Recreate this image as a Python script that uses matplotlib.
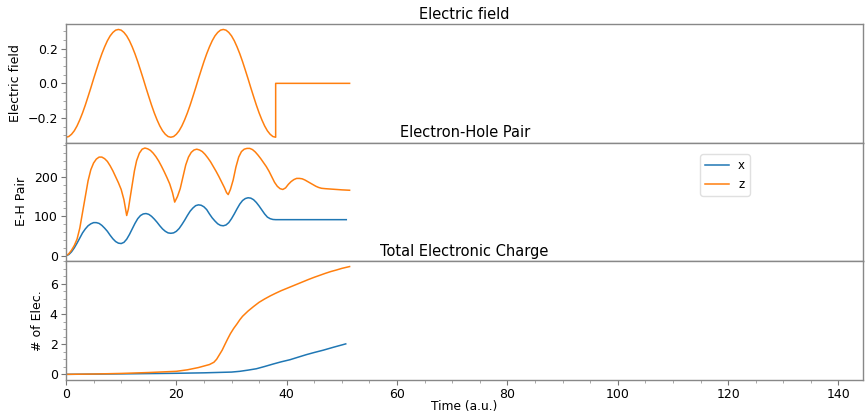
import numpy as np
import matplotlib
matplotlib.use("Agg")
import matplotlib.pyplot as plt
from matplotlib.ticker import AutoMinorLocator

# ---- Electric field (z component), sampled every 0.5 a.u. up to the cutoff ----
field_t = list(np.arange(0.0, 38.5, 0.5)) + [38.0, 51.4]
field_z = [
    -0.310, -0.306, -0.293, -0.273, -0.245, -0.210, -0.170, -0.125, -0.076, -0.026,
    0.026, 0.076, 0.125, 0.170, 0.210, 0.245, 0.273, 0.293, 0.306, 0.310,
    0.306, 0.293, 0.273, 0.245, 0.210, 0.170, 0.125, 0.076, 0.026, -0.026,
    -0.076, -0.125, -0.170, -0.210, -0.245, -0.273, -0.293, -0.306, -0.310,
    -0.306, -0.293, -0.273, -0.245, -0.210, -0.170, -0.125, -0.076, -0.026,
    0.026, 0.076, 0.125, 0.170, 0.210, 0.245, 0.273, 0.293, 0.306, 0.310,
    0.306, 0.293, 0.273, 0.245, 0.210, 0.170, 0.125, 0.076, 0.026, -0.026,
    -0.076, -0.125, -0.170, -0.210, -0.245, -0.273, -0.293, -0.306, -0.310,
    0.0, 0.0,
]

# ---- Electron-hole pairs ----
eh_x_t = [0, 0.5, 1, 1.5, 2, 2.5, 3, 3.5, 4, 4.5, 5, 5.5, 6, 6.5, 7, 7.5, 8, 8.5, 9, 9.5,
          10, 10.5, 11, 11.5, 12, 12.5, 13, 13.5, 14, 14.5, 15, 15.5, 16, 16.5, 17, 17.5,
          18, 18.5, 19, 19.5, 20, 20.5, 21, 21.5, 22, 22.5, 23, 23.5, 24, 24.5, 25, 25.5,
          26, 26.5, 27, 27.5, 28, 28.5, 29, 29.5, 30, 30.5, 31, 31.5, 32, 32.5, 33, 33.5,
          34, 34.5, 35, 35.5, 36, 36.5, 37, 37.5, 38, 40, 45, 50.8]
eh_x = [0, 3, 10, 20, 32, 45, 58, 68, 76, 81, 84, 84, 82, 77, 70, 62, 52, 43, 36, 32,
        31, 34, 42, 54, 68, 82, 94, 102, 106, 107, 105, 100, 93, 85, 76, 68,
        62, 58, 57, 58, 62, 69, 79, 90, 102, 113, 121, 127, 129, 128, 124, 117,
        106, 96, 88, 81, 77, 76, 78, 84, 94, 106, 119, 131, 140, 145, 147, 146,
        142, 135, 126, 116, 106, 98, 94, 92, 91.5, 91.5, 91.5, 91.5]

eh_z_t = [0, 0.5, 1, 1.5, 2, 2.5, 3, 3.5, 4, 4.5, 5, 5.5, 6, 6.5, 7, 7.5, 8, 8.5, 9, 9.5,
          10, 10.5, 10.8, 11, 11.3, 11.6, 12, 12.4, 12.8, 13.3, 13.8, 14.3, 14.8, 15.3,
          15.8, 16.3, 16.8, 17.3, 17.8, 18.3, 18.8, 19.3, 19.7, 20.2, 20.7, 21.2, 21.7,
          22.2, 22.7, 23.2, 23.7, 24.2, 24.7, 25.2, 25.7, 26.2, 26.7, 27.2, 27.7, 28.2,
          28.7, 29.1, 29.4, 29.8, 30.3, 30.8, 31.3, 31.8, 32.3, 32.8, 33.3, 33.8, 34.3,
          34.8, 35.3, 35.8, 36.3, 36.8, 37.3, 37.8, 38.3, 38.8, 39.3, 39.8, 40.3, 40.8,
          41.3, 41.8, 42.3, 42.8, 43.3, 43.8, 44.3, 44.8, 45.3, 45.8, 46.3, 47, 48, 49,
          50, 51.4]
eh_z = [0, 5, 14, 26, 42, 70, 110, 150, 190, 218, 235, 245, 250, 250, 246, 239, 228, 215, 200, 185,
        168, 142, 118, 102, 118, 145, 180, 215, 241, 260, 270, 273, 271, 267,
        260, 251, 240, 227, 213, 198, 182, 160, 136, 150, 170, 200, 230,
        250, 262, 268, 270, 268, 264, 257, 248, 238, 226, 214, 201, 187,
        173, 160, 155, 168, 192, 225, 250, 264, 270, 272, 272, 269, 263,
        255, 246, 236, 226, 214, 200, 186, 176, 170, 168, 172, 181, 188,
        193, 196, 196, 195, 192, 188, 184, 180, 176, 173, 171, 170, 169, 168,
        167, 166]

# ---- Total electronic charge ----
q_x_t = [0, 10, 20, 25, 30, 31.5, 33, 34.5, 36, 37.6, 39, 40.6, 42, 43.6, 45, 46.6, 48.5, 50.7]
q_x = [0, 0.03, 0.07, 0.1, 0.15, 0.2, 0.28, 0.37, 0.52, 0.69, 0.83, 0.97, 1.13, 1.31,
       1.45, 1.6, 1.8, 2.02]

q_z_t = [0, 5, 10, 15, 20, 22, 24, 25, 26, 26.8, 27.3, 27.8, 28.3, 28.8, 29.3, 29.8, 30.4,
         31, 31.5, 32, 33, 34, 35, 36, 37, 38, 39, 40, 41, 42, 43, 44, 45, 46, 47, 48, 49,
         50, 51.4]
q_z = [0, 0.02, 0.06, 0.12, 0.2, 0.3, 0.45, 0.55, 0.65, 0.8, 1.0, 1.3, 1.6, 1.98, 2.35,
       2.7, 3.05, 3.35, 3.62, 3.85, 4.2, 4.5, 4.78, 5.0, 5.2, 5.38, 5.55, 5.7, 5.85, 6.0,
       6.15, 6.3, 6.44, 6.57, 6.7, 6.82, 6.92, 7.03, 7.15]

x_max = 144.5
c_x = "#1f77b4"
c_z = "#ff7f0e"

fig, axes = plt.subplots(3, 1, sharex=True, figsize=(8.65, 4.15), dpi=100)
fig.subplots_adjust(left=0.0763, right=0.998, top=0.942, bottom=0.085, hspace=0)

ax1, ax2, ax3 = axes
ax1.plot(field_t, field_z, color=c_z, lw=1.1)
ax1.set_title("Electric field", fontsize=10.5, pad=4)
ax1.set_ylabel("Electric field", fontsize=9)
ax1.set_yticks([-0.2, 0.0, 0.2])

ax2.plot(eh_x_t, eh_x, color=c_x, lw=1.1, label="x")
ax2.plot(eh_z_t, eh_z, color=c_z, lw=1.1, label="z")
ax2.set_title("Electron-Hole Pair", fontsize=10.5, pad=4)
ax2.set_ylabel("E-H Pair", fontsize=9)
ax2.set_yticks([0, 100, 200])
ax2.legend(loc="upper left", bbox_to_anchor=(0.7955, 0.90), borderaxespad=0,
           fontsize=8.5, handlelength=2.0, framealpha=1, edgecolor="#e0e0e0",
           fancybox=True)

ax3.plot(q_x_t, q_x, color=c_x, lw=1.1)
ax3.plot(q_z_t, q_z, color=c_z, lw=1.1)
ax3.set_title("Total Electronic Charge", fontsize=10.5, pad=4)
ax3.set_ylabel("# of Elec.", fontsize=9)
ax3.set_yticks([0, 2, 4, 6])
ax3.set_xlabel("Time (a.u.)", fontsize=8.8, labelpad=-1)
ax3.set_xlim(0, x_max)
ax3.set_xticks([0, 20, 40, 60, 80, 100, 120, 140])

for ax in axes:
    ax.tick_params(labelsize=9, color="#777777", length=3.5, pad=2.5)
    ax.tick_params(which="minor", length=2, color="#999999")
    ax.xaxis.set_minor_locator(AutoMinorLocator())
    ax.yaxis.set_minor_locator(AutoMinorLocator())
    for s in ax.spines.values():
        s.set_color("#888888")
        s.set_linewidth(1.0)

fig.savefig("out.png", dpi=100)
